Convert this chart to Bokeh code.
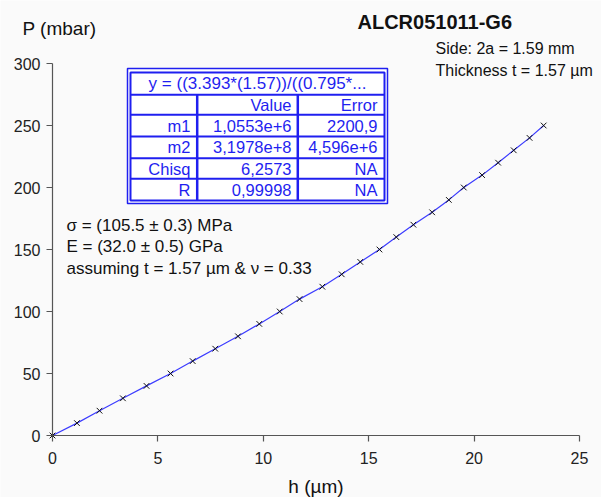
from bokeh.plotting import figure
from bokeh.models import Range1d, Label, FixedTicker, LinearAxis
from bokeh.core.properties import value
from bokeh.embed import file_html
from bokeh.resources import INLINE

# ---------------- data ----------------
h_um = [0, 1.16, 2.23, 3.34, 4.46, 5.60, 6.65, 7.72, 8.80, 9.81, 10.78, 11.72, 12.80,
        13.72, 14.60, 15.51, 16.31, 17.12, 18.01, 18.80, 19.51, 20.38, 21.14, 21.88,
        22.63, 23.30]
p_mbar = [0, 10, 20, 30, 40, 50, 60, 70, 80, 90, 100, 110, 120, 130, 140, 150, 160,
          170, 180, 190, 200, 210, 220, 230, 240, 250]
x_ticks = [0, 5, 10, 15, 20, 25]
y_ticks = [0, 50, 100, 150, 200, 250, 300]
x_bounds = (0, 25)
y_bounds = (0, 300)

fit_title = "y = ((3.393*(1.57))/((0.795*..."
col_headers = ["", "Value", "Error"]
row_names = ["m1", "m2", "Chisq", "R"]
row_values = ["1,0553e+6", "3,1978e+8", "6,2573", "0,99998"]
row_errors = ["2200,9", "4,596e+6", "NA", "NA"]

title_text = "ALCR051011-G6"
info_lines = ["Side: 2a = 1.59 mm", "Thickness t = 1.57 \u00b5m"]
result_lines = ["\u03c3 = (105.5 \u00b1 0.3) MPa", "E = (32.0 \u00b1 0.5) GPa",
                "assuming t = 1.57 \u00b5m  & \u03bd = 0.33"]

# ---------------- layout (canvas pixels) ----------------
W, H = 601, 497
AX_L, AX_R, AX_T, AX_B = 52, 579, 63, 435   # where the axes' bounds sit
FONT = "Liberation Sans"
BG = "#fafafa"
BLUE = "#1f1ff0"

sx = (AX_R - AX_L) / (x_bounds[1] - x_bounds[0])
sy = (AX_B - AX_T) / (y_bounds[1] - y_bounds[0])
def dx(px):
    return x_bounds[0] + (px - AX_L) / sx
def dy(py):
    return y_bounds[0] + (AX_B - py) / sy

p = figure(width=W, height=H, output_backend="svg", toolbar_location=None,
           x_range=Range1d(dx(0), dx(W)), y_range=Range1d(dy(H), dy(0)),
           x_axis_location=None, y_axis_location=None,
           background_fill_color=BG, border_fill_color=BG)
p.min_border = 0
p.outline_line_color = None
p.grid.visible = False

xaxis = LinearAxis(fixed_location=y_bounds[0], bounds=x_bounds,
                   ticker=FixedTicker(ticks=x_ticks))
yaxis = LinearAxis(fixed_location=x_bounds[0], bounds=y_bounds,
                   ticker=FixedTicker(ticks=y_ticks))
for ax in (xaxis, yaxis):
    ax.axis_line_color = "#555555"
    ax.axis_line_width = 1.2
    ax.major_tick_line_color = "#555555"
    ax.major_tick_line_width = 1.2
    ax.major_tick_out = 6
    ax.major_tick_in = 0
    ax.minor_tick_line_color = None
    ax.major_label_text_font = FONT
    ax.major_label_text_font_size = "16px"
    ax.major_label_text_color = "#222222"
xaxis.major_label_standoff = 10
yaxis.major_label_standoff = 6
p.add_layout(xaxis, "below")
p.add_layout(yaxis, "left")

# curve & points
p.line(h_um, p_mbar, line_color="#3c3cff", line_width=1.2)
p.scatter(h_um, p_mbar, marker="x", size=8, line_color="#111111", line_width=1)

# ---------------- table ----------------
ox0, ox1, oy0, oy1 = 127, 387, 68, 203
ix0, ix1, iy0, iy1 = 130, 384, 72, 200
p.quad(left=[dx(ox0)], right=[dx(ox1)], top=[dy(oy0)], bottom=[dy(oy1)],
       fill_color="white", line_color=BLUE, line_width=1.5)
p.quad(left=[dx(ix0)], right=[dx(ix1)], top=[dy(iy0)], bottom=[dy(iy1)],
       fill_color=None, line_color=BLUE, line_width=2)
row_lines = [94.3, 114.3, 136, 157.7, 178.3]
p.segment(x0=[dx(ix0)] * len(row_lines), x1=[dx(ix1)] * len(row_lines),
          y0=[dy(r) for r in row_lines], y1=[dy(r) for r in row_lines],
          line_color=BLUE, line_width=2)
col_lines = [196.7, 297.3]
p.segment(x0=[dx(c) for c in col_lines], x1=[dx(c) for c in col_lines],
          y0=[dy(94.3)] * 2, y1=[dy(iy1)] * 2, line_color=BLUE, line_width=2.5)

p.text(x=[dx((ix0 + ix1) / 2)], y=[dy(83)], text=[fit_title], text_color=BLUE,
       text_font=value(FONT), text_font_size="17px", text_align="center",
       text_baseline="middle")
row_y = [125.3, 146.8, 168, 189.2]
col_right = [190, 291, 377]
p.text(x=[dx(c) for c in col_right[1:]], y=[dy(104.5)] * 2, text=col_headers[1:],
       text_color=BLUE, text_font=value(FONT), text_font_size="16.5px",
       text_align="right", text_baseline="middle")
for col, texts in zip(col_right, [row_names, row_values, row_errors]):
    p.text(x=[dx(col)] * len(texts), y=[dy(r) for r in row_y], text=texts,
           text_color=BLUE, text_font=value(FONT), text_font_size="16.5px",
           text_align="right", text_baseline="middle")

# ---------------- free texts ----------------
def add_label(txt, px, py, size, align="left", bold=False, color="#111111", font=FONT):
    p.add_layout(Label(x=dx(px), y=dy(py), text=txt, text_font=font,
                       text_font_size=size, text_align=align, text_baseline="middle",
                       text_color=color, text_font_style="bold" if bold else "normal"))

add_label("P (mbar)", 22, 28, "19px")
add_label("h (\u00b5m)", (AX_L + AX_R) / 2, 486, "19px", align="center")
add_label(title_text, 357, 21, "20px", bold=True)
for i, t in enumerate(info_lines):
    add_label(t, 435, 48 + 22 * i, "16px")
for i, t in enumerate(result_lines):
    add_label(t, 66, 225 + 21.3 * i, "17px")

open("out.html", "w").write(file_html(p, INLINE))
